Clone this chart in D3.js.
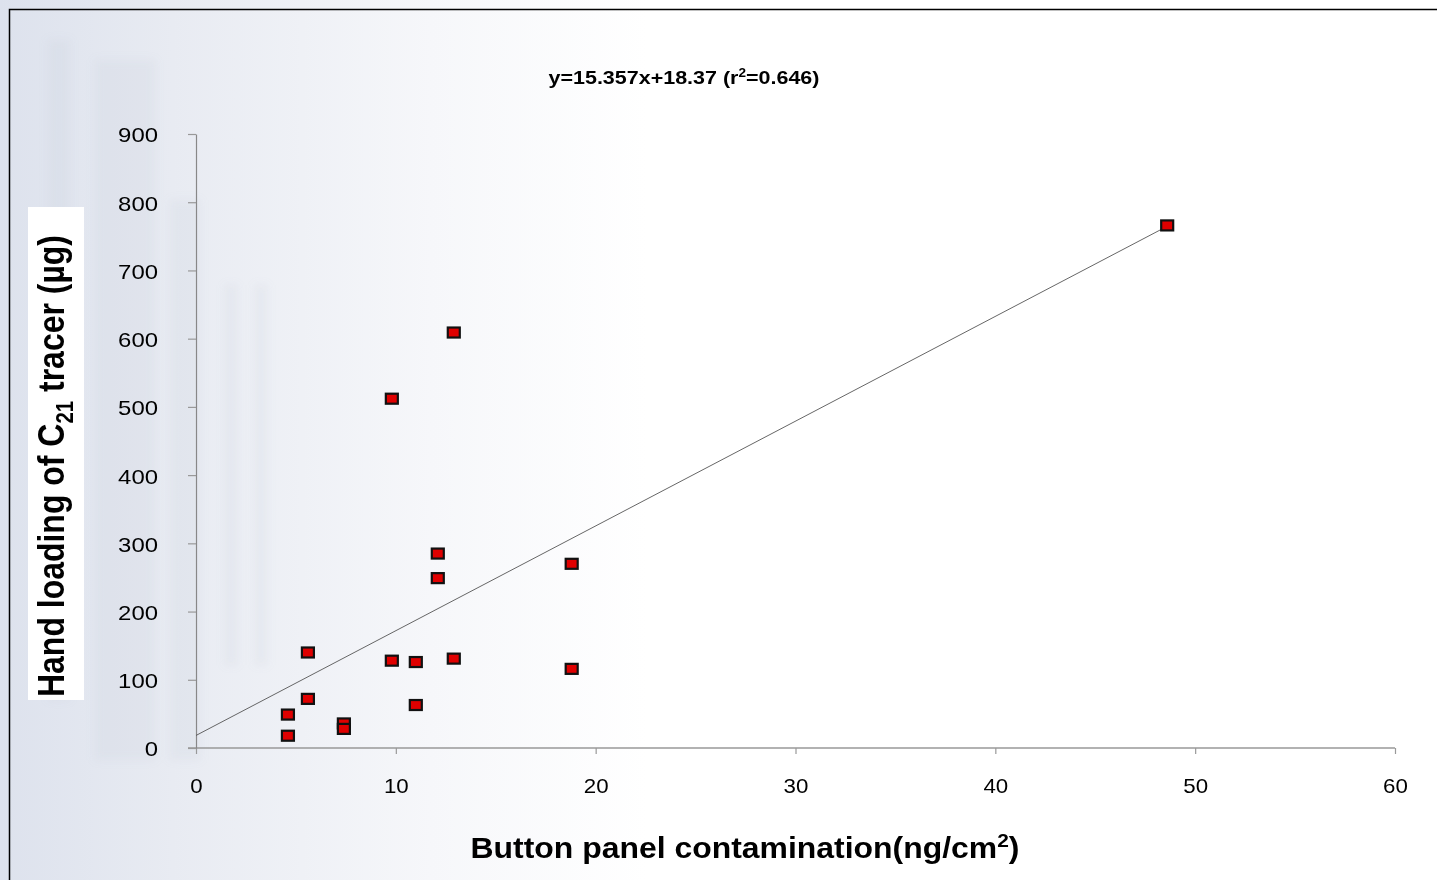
<!DOCTYPE html>
<html>
<head>
<meta charset="utf-8">
<script src="https://cdn.jsdelivr.net/npm/d3@7"></script>
<style>
  html, body { margin: 0; padding: 0; background: #fff; }
  svg { display: block; font-family: "Liberation Sans", Arial, sans-serif; }
</style>
</head>
<body>
<div id="chart"></div>
<script>
// panel contamination (ng/cm2) vs hand loading (µg)
const contamination = [12.9, 9.8, 12.1, 12.1, 18.8, 5.6, 9.8, 11.0, 12.9, 18.8, 5.6, 4.6, 4.6, 7.4, 7.4, 11.0, 48.6];
const handLoading   = [609, 512, 285, 249, 270, 140, 128, 126, 131, 116, 72, 49, 18, 36, 28, 63, 766];
const xTicks = [0, 10, 20, 30, 40, 50, 60];
const yTicks = [0, 100, 200, 300, 400, 500, 600, 700, 800, 900];
const slope = 15.357, intercept = 18.37;

const W = 1437, H = 880;
const margin = { top: 134, right: 42, bottom: 132, left: 196 };

const svg = d3.select('#chart').append('svg')
    .attr('width', W)
    .attr('height', H);

// background wash
const defs = svg.append('defs');
const grad = defs.append('linearGradient').attr('id', 'bg').attr('x1', 0).attr('x2', 1).attr('y1', 0).attr('y2', 0);
grad.append('stop').attr('offset', 0).attr('stop-color', '#dde2ed');
grad.append('stop').attr('offset', 0.12).attr('stop-color', '#e8ebf2');
grad.append('stop').attr('offset', 0.3).attr('stop-color', '#f6f7fa');
grad.append('stop').attr('offset', 0.45).attr('stop-color', '#ffffff');
svg.append('rect').attr('width', W).attr('height', H).attr('fill', 'url(#bg)');

defs.append('filter').attr('id', 'soft')
    .append('feGaussianBlur').attr('stdDeviation', 4);

// faint towers in the background
const towers = [[48, 40, 22, 660], [95, 60, 60, 700], [170, 200, 30, 560], [225, 285, 12, 380], [255, 285, 12, 380]];
svg.append('g').attr('filter', 'url(#soft)')
    .selectAll('rect').data(towers).join('rect')
    .attr('x', d => d[0]).attr('y', d => d[1])
    .attr('width', d => d[2]).attr('height', d => d[3])
    .attr('fill', '#b3bccf').attr('opacity', 0.12);

// frame
svg.append('rect')
    .attr('x', 9.5).attr('y', 9.5)
    .attr('width', W + 20).attr('height', H + 20)
    .attr('fill', 'none').attr('stroke', '#000').attr('stroke-width', 1.5);

const x = d3.scaleLinear().domain([0, 60]).range([margin.left, W - margin.right]);
const y = d3.scaleLinear().domain([0, 900]).range([H - margin.bottom, margin.top]);

// x axis
const xAxis = svg.append('g')
    .attr('transform', `translate(0, ${y(0)})`)
    .call(d3.axisBottom(x).tickValues(xTicks).tickSize(6).tickSizeOuter(0).tickPadding(24));
xAxis.select('.domain').remove();
xAxis.append('line')
    .attr('x1', x(0) - 8).attr('x2', x(60))
    .attr('stroke', '#999').attr('stroke-width', 1.5);
xAxis.selectAll('.tick line').attr('stroke', '#999').attr('stroke-width', 1.2);
xAxis.selectAll('.tick text')
    .attr('fill', '#000').attr('font-size', 21)
    .attr('font-family', '"Liberation Sans", Arial, sans-serif')
    .attr('textLength', d => String(d).length * 12.4)
    .attr('lengthAdjust', 'spacingAndGlyphs');

// y axis
const yAxis = svg.append('g')
    .attr('transform', `translate(${x(0)}, 0)`)
    .call(d3.axisLeft(y).tickValues(yTicks).tickSize(8).tickSizeOuter(0).tickPadding(30));
yAxis.select('.domain').attr('stroke', '#888').attr('stroke-width', 1.2);
yAxis.selectAll('.tick line').attr('stroke', '#999').attr('stroke-width', 1.2);
yAxis.selectAll('.tick text')
    .attr('fill', '#000').attr('font-size', 21)
    .attr('font-family', '"Liberation Sans", Arial, sans-serif')
    .attr('dy', '0.38em')
    .attr('textLength', d => String(d).length * 13.3)
    .attr('lengthAdjust', 'spacingAndGlyphs');

// regression line
const xMax = d3.max(contamination);
svg.append('line')
    .attr('x1', x(0)).attr('y1', y(intercept))
    .attr('x2', x(xMax)).attr('y2', y(slope * xMax + intercept))
    .attr('stroke', '#555').attr('stroke-width', 0.9);

// points
svg.append('g').selectAll('rect')
    .data(contamination.map((c, i) => [c, handLoading[i]]))
    .join('rect')
    .attr('x', d => x(d[0]) - 6)
    .attr('y', d => y(d[1]) - 5)
    .attr('width', 12)
    .attr('height', 10)
    .attr('fill', '#e00000')
    .attr('stroke', '#111')
    .attr('stroke-width', 2.2);

// equation
const eq = svg.append('text')
    .attr('x', 684).attr('y', 84)
    .attr('text-anchor', 'middle')
    .attr('font-size', 19).attr('font-weight', 'bold')
    .attr('textLength', 271).attr('lengthAdjust', 'spacingAndGlyphs');
eq.append('tspan').text('y=15.357x+18.37 (r');
eq.append('tspan').attr('font-size', 12).attr('dy', -7).text('2');
eq.append('tspan').attr('dy', 7).text('=0.646)');

// x axis title
const xt = svg.append('text')
    .attr('x', 745).attr('y', 858)
    .attr('text-anchor', 'middle')
    .attr('font-size', 29).attr('font-weight', 'bold')
    .attr('textLength', 549).attr('lengthAdjust', 'spacingAndGlyphs');
xt.append('tspan').text('Button panel contamination(ng/cm');
xt.append('tspan').attr('font-size', 19).attr('dy', -11).text('2');
xt.append('tspan').attr('dy', 11).text(')');

// y axis title on white box
svg.append('rect')
    .attr('x', 28).attr('y', 207)
    .attr('width', 56).attr('height', 493)
    .attr('fill', '#fff');
const yt = svg.append('text')
    .attr('transform', 'translate(64, 466) rotate(-90)')
    .attr('text-anchor', 'middle')
    .attr('font-size', 36).attr('font-weight', 'bold')
    .attr('textLength', 462).attr('lengthAdjust', 'spacingAndGlyphs');
yt.append('tspan').text('Hand loading of C');
yt.append('tspan').attr('font-size', 23).attr('dy', 9).text('21');
yt.append('tspan').attr('dy', -9).text('  tracer (µg)');
</script>
</body>
</html>
